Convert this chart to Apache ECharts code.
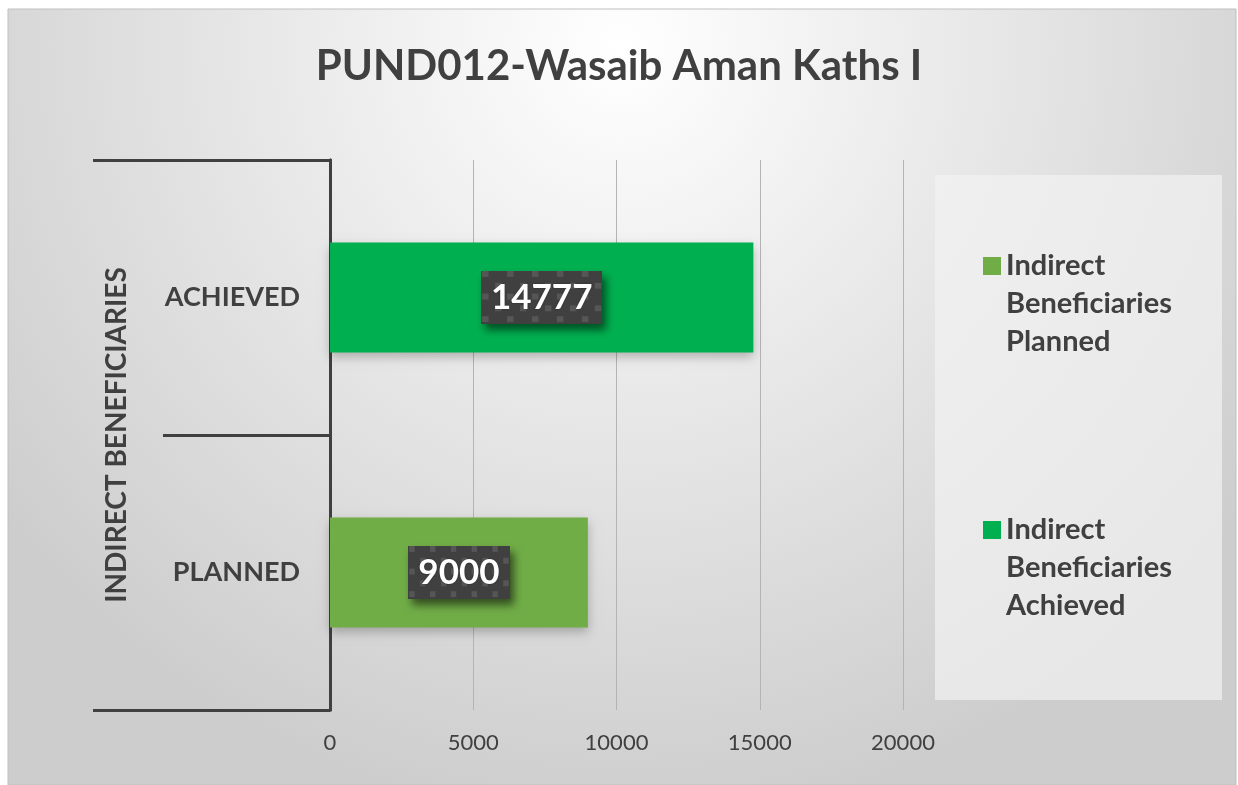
<!DOCTYPE html>
<html>
<head>
<meta charset="utf-8">
<script src="https://cdn.jsdelivr.net/npm/echarts@6/dist/echarts.min.js"></script>
<style>
  html, body { margin: 0; padding: 0; background: #fff; }
  #main { width: 1238px; height: 785px; }
</style>
</head>
<body>
<div id="main"></div>
<script>
// chart data
const categories = ['PLANNED', 'ACHIEVED']
const plannedValues = [9000, null]
const achievedValues = [null, 14777]
const seriesNames = ['Indirect Beneficiaries Planned', 'Indirect Beneficiaries Achieved']
const groupName = 'INDIRECT BENEFICIARIES'
const titleText = 'PUND012-Wasaib Aman Kaths I'

const FONT = 'Lato'
const DARK = '#404040'

// dotted texture for the data label boxes
function makePattern(w, h) {
    const c = document.createElement('canvas')
    c.width = w
    c.height = h
    const ctx = c.getContext('2d')
    ctx.fillStyle = DARK
    ctx.fillRect(0, 0, w, h)
    ctx.fillStyle = '#565656'
    let row = 0
    for (let y = 0; y < h; y += 11.5) {
        const off = row % 2 === 0 ? 0 : 11.5
        for (let x = off; x < w; x += 23) {
            ctx.fillRect(Math.round(x) + 1, Math.round(y), 6, 6)
        }
        row++
    }
    return c
}
const pattern = makePattern(112, 54)

const chart = echarts.init(document.getElementById('main'))

const labelStyle = {
    show: true,
    position: 'inside',
    color: '#fff',
    fontFamily: FONT,
    fontWeight: 'bold',
    fontSize: 35,
    backgroundColor: { image: pattern },
    padding: [9, 10, 9, 10],
    textShadowColor: 'rgba(0,0,0,0.4)',
    textShadowBlur: 2,
    shadowColor: 'rgba(0,0,0,0.55)',
    shadowBlur: 8,
    shadowOffsetX: 4,
    shadowOffsetY: 6
}

const option = {
    backgroundColor: '#fff',
    title: {
        text: titleText,
        left: 'center',
        top: 40,
        textStyle: {
            fontFamily: FONT,
            fontWeight: 'bold',
            fontSize: 42,
            color: DARK
        }
    },
    graphic: [
        {
            type: 'rect',
            z: -10,
            silent: true,
            shape: { x: 8, y: 9, width: 1228, height: 776 },
            style: {
                fill: new echarts.graphic.RadialGradient(0.5, 0.05, 1.0, [
                    { offset: 0, color: '#ffffff' },
                    { offset: 1, color: '#cdcdcd' }
                ]),
                stroke: '#bfbfbf',
                lineWidth: 1
            }
        },
        {
            type: 'rect',
            z: -9,
            silent: true,
            shape: { x: 935, y: 175, width: 287, height: 525 },
            style: { fill: 'rgba(242,242,242,0.7)' }
        }
    ],
    legend: {
        orient: 'vertical',
        left: 983,
        top: 171,
        padding: 0,
        itemWidth: 18,
        itemHeight: 18,
        itemGap: 74,
        icon: 'rect',
        data: seriesNames,
        // two leading blank lines keep the first word level with the icon
        formatter: (name) => '\n\n' + name.split(' ').join('\n'),
        textStyle: {
            fontFamily: FONT,
            fontWeight: 'bold',
            fontSize: 29,
            lineHeight: 38,
            color: DARK
        }
    },
    grid: {
        left: 330,
        top: 160,
        width: 573,
        height: 550
    },
    xAxis: {
        type: 'value',
        min: 0,
        max: 20000,
        interval: 5000,
        axisLine: { show: false },
        axisTick: { show: false },
        axisLabel: {
            margin: 22,
            fontFamily: FONT,
            fontSize: 22,
            color: DARK,
            formatter: (v) => String(v)
        },
        splitLine: {
            show: true,
            lineStyle: { color: '#b4b4b4', width: 1 }
        }
    },
    yAxis: [
        {
            type: 'category',
            data: categories,
            position: 'left',
            axisLine: { show: true, lineStyle: { color: DARK, width: 3 } },
            axisTick: { show: true, length: 167, lineStyle: { color: DARK, width: 3 } },
            axisLabel: {
                margin: 30,
                fontFamily: FONT,
                fontWeight: 'bold',
                fontSize: 27,
                color: DARK
            }
        },
        {
            type: 'category',
            data: [''],
            position: 'left',
            axisLine: { show: true, lineStyle: { color: DARK, width: 3 } },
            axisTick: { show: true, length: 237, lineStyle: { color: DARK, width: 3 } },
            axisLabel: { show: false },
            name: groupName,
            nameLocation: 'middle',
            nameRotate: 90,
            nameGap: 199,
            nameTextStyle: {
                fontFamily: FONT,
                fontWeight: 'bold',
                fontSize: 28,
                color: DARK
            }
        }
    ],
    series: [
        {
            name: seriesNames[0],
            type: 'bar',
            stack: 'total',
            yAxisIndex: 0,
            barWidth: 110,
            data: plannedValues,
            itemStyle: {
                color: '#70AD47',
                shadowColor: 'rgba(0,0,0,0.25)',
                shadowBlur: 10,
                shadowOffsetY: 4
            },
            label: labelStyle
        },
        {
            name: seriesNames[1],
            type: 'bar',
            stack: 'total',
            yAxisIndex: 0,
            barWidth: 110,
            data: achievedValues,
            itemStyle: {
                color: '#00B050',
                shadowColor: 'rgba(0,0,0,0.25)',
                shadowBlur: 10,
                shadowOffsetY: 4
            },
            label: labelStyle
        }
    ]
}

chart.setOption(option)
</script>
</body>
</html>
